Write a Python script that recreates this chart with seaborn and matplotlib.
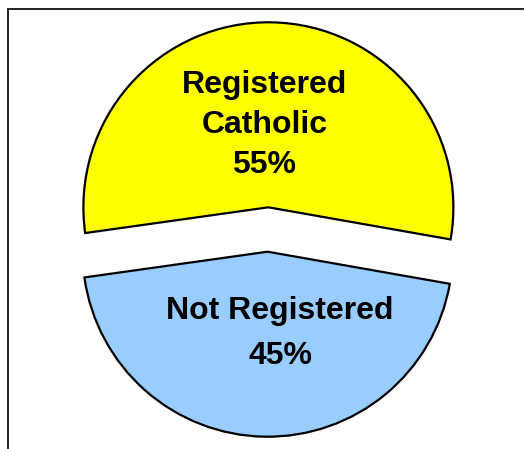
import matplotlib
matplotlib.use("Agg")
import matplotlib.pyplot as plt
import seaborn as sns
from matplotlib.lines import Line2D

# datos
etiquetas = ["Registered\nCatholic", "Not Registered"]
valores = [55, 45]
colores = ["#FFFF00", "#99CCFF"]

sns.set_style("white")
plt.rcParams['font.family'] = ['Liberation Sans', 'DejaVu Sans']
paleta = sns.color_palette(colores)

fig = plt.figure(figsize=(5.24, 4.49), dpi=100)
ax = fig.add_axes([0, 0, 1, 1])

wedges, _ = ax.pie(valores, colors=paleta, startangle=-10, counterclock=True,
                   explode=[0.12, 0.12], radius=1.0,
                   wedgeprops=dict(edgecolor="black", linewidth=1.6))

ax.set_xlim(-268 / 185, 256 / 185)
ax.set_ylim(-219.5 / 185, 229.5 / 185)
ax.set_aspect("auto")
ax.axis("off")

# textos dentro de cada sector
ax.text(-0.02, 0.565, f"{etiquetas[0]}\n{valores[0]}%", ha="center", va="center",
        fontsize=23, fontweight="bold", linespacing=1.45, color="black")
ax.text(0.065, -0.56, f"{etiquetas[1]}\n{valores[1]}%", ha="center", va="center",
        fontsize=23, fontweight="bold", linespacing=1.65, color="black")

# marco
x0 = 7.5 / 524
y0 = 1 - 8.5 / 449
fig.add_artist(Line2D([x0, x0], [0, y0], color="#222222", linewidth=1.4, transform=fig.transFigure))
fig.add_artist(Line2D([x0, 1], [y0, y0], color="#222222", linewidth=1.4, transform=fig.transFigure))

fig.savefig("out.png", dpi=100)
